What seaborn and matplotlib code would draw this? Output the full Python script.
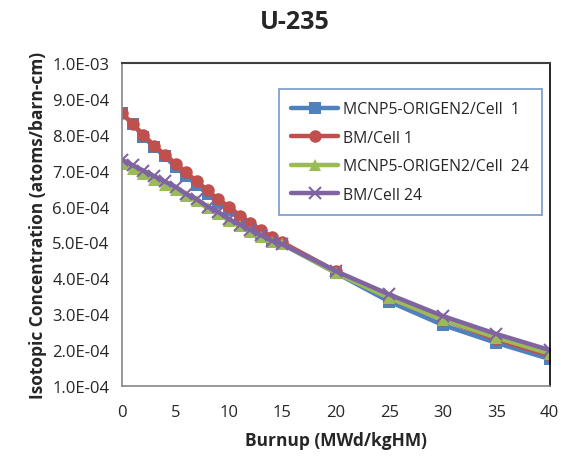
import numpy as np
import pandas as pd
import matplotlib
matplotlib.use("Agg")
import matplotlib.pyplot as plt
import seaborn as sns

# Burnup points (MWd/kgHM)
burnup = [0, 1, 2, 3, 4, 5, 6, 7, 8, 9, 10, 11, 12, 13, 14, 15, 20, 25, 30, 35, 40]

# U-235 concentration, units of 1E-4 atoms/barn-cm
mcnp_cell1 = [8.60, 8.30, 7.95, 7.65, 7.40, 7.10, 6.85, 6.60, 6.35, 6.10, 5.90,
              5.65, 5.45, 5.25, 5.05, 4.95, 4.15, 3.35, 2.70, 2.20, 1.75]
bm_cell1 = [8.60, 8.30, 8.00, 7.70, 7.45, 7.20, 6.95, 6.70, 6.45, 6.20, 6.00,
            5.75, 5.55, 5.35, 5.15, 5.00, 4.20, 3.45, 2.85, 2.30, 1.85]
mcnp_cell24 = [7.20, 7.05, 6.90, 6.75, 6.60, 6.45, 6.30, 6.15, 5.95, 5.80, 5.60,
               5.45, 5.30, 5.15, 5.00, 4.95, 4.15, 3.45, 2.85, 2.35, 1.90]
bm_cell24 = [7.30, 7.15, 7.00, 6.85, 6.70, 6.55, 6.35, 6.20, 6.00, 5.85, 5.65,
             5.50, 5.35, 5.20, 5.05, 4.95, 4.20, 3.55, 2.95, 2.45, 2.00]

labels = ["MCNP5-ORIGEN2/Cell  1", "BM/Cell 1", "MCNP5-ORIGEN2/Cell  24", "BM/Cell 24"]
series = [mcnp_cell1, bm_cell1, mcnp_cell24, bm_cell24]
colors = ["#4F81BD", "#C0504D", "#9BBB59", "#8064A2"]
markers = ["s", "o", "^", "x"]
ytick_labels = ["1.0E-04", "2.0E-04", "3.0E-04", "4.0E-04", "5.0E-04",
                "6.0E-04", "7.0E-04", "8.0E-04", "9.0E-04", "1.0E-03"]

rows = []
for lab, vals in zip(labels, series):
    for b, v in zip(burnup, vals):
        rows.append({"Burnup": b, "Conc": v * 1e-4, "Series": lab})
df = pd.DataFrame(rows)

sns.set_style("white")
plt.rcParams["font.family"] = ["Open Sans", "DejaVu Sans"]

fig = plt.figure(figsize=(5.65, 4.64), dpi=100)
ax = fig.add_axes([0.216, 0.166, 0.757, 0.696])

for lab, col, mk in zip(labels, colors, markers):
    sub = df[df["Series"] == lab]
    sns.lineplot(data=sub, x="Burnup", y="Conc", ax=ax, color=col, linewidth=3.2,
                 marker=mk, markersize=9 if mk != "x" else 8,
                 markeredgewidth=1.5 if mk == "x" else 0,
                 markeredgecolor=col, label=lab)

ax.set_xlim(0, 40)
ax.set_ylim(1e-4, 1e-3)
ax.set_xticks(np.arange(0, 41, 5))
ax.set_yticks(np.arange(1, 10.5, 1) * 1e-4)
ax.set_yticklabels(ytick_labels)
ax.tick_params(axis="both", which="both", direction="out", length=5, width=1,
               color="#868686", labelsize=12, pad=4)
ax.tick_params(axis="x", pad=8)

for s in ["left", "bottom"]:
    ax.spines[s].set_color("#868686")
    ax.spines[s].set_linewidth(1.2)
ax.spines["top"].set_color("#404040")
ax.spines["top"].set_linewidth(1.5)
ax.spines["right"].set_color("black")
ax.spines["right"].set_linewidth(1.2)

ax.set_xlabel("Burnup (MWd/kgHM)", fontsize=12.5, fontweight="bold", labelpad=8)
ax.set_ylabel("Isotopic Concentration (atoms/barn-cm)", fontsize=12.5, fontweight="bold", labelpad=4)
fig.text(0.522, 0.952, "U-235", ha="center", va="center", fontsize=18, fontweight="bold")

leg = ax.legend(loc="upper left", bbox_to_anchor=(0.348, 0.945), fontsize=11.3,
                frameon=True, fancybox=False, handlelength=3, borderpad=0.8,
                labelspacing=0.8, handletextpad=0.3)
leg.get_frame().set_edgecolor("#4F81BD")
leg.get_frame().set_linewidth(1.2)

fig.savefig("out.png", dpi=100)
